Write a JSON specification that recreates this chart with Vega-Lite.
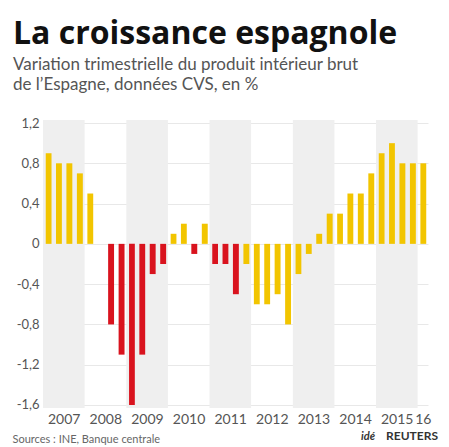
{
  "$schema": "https://vega.github.io/schema/vega-lite/v6.json",
  "autosize": "none",
  "width": 385,
  "height": 288,
  "padding": {"left": 43, "top": 120, "right": 21, "bottom": 39},
  "background": "white",
  "config": {"view": {"stroke": null}, "font": "Lato"},
  "title": {
    "text": "La croissance espagnole",
    "subtitle": ["Variation trimestrielle du produit intérieur brut", "de l’Espagne, données CVS, en %"],
    "anchor": "start",
    "frame": "group",
    "dx": -30,
    "offset": 23,
    "font": "Open Sans",
    "fontSize": 32,
    "fontWeight": "bold",
    "color": "#111111",
    "subtitleFont": "Lato",
    "subtitleFontSize": 17,
    "subtitleColor": "#555555",
    "subtitleLineHeight": 20,
    "subtitlePadding": 6
  },
  "datasets": {
    "bars": [
      {"date": "2007-01-01", "v": 0.9, "g": "A"},
      {"date": "2007-04-01", "v": 0.8, "g": "A"},
      {"date": "2007-07-01", "v": 0.8, "g": "A"},
      {"date": "2007-10-01", "v": 0.7, "g": "A"},
      {"date": "2008-01-01", "v": 0.5, "g": "A"},
      {"date": "2008-04-01", "v": 0.0, "g": "A"},
      {"date": "2008-07-01", "v": -0.8, "g": "B"},
      {"date": "2008-10-01", "v": -1.1, "g": "B"},
      {"date": "2009-01-01", "v": -1.6, "g": "B"},
      {"date": "2009-04-01", "v": -1.1, "g": "B"},
      {"date": "2009-07-01", "v": -0.3, "g": "B"},
      {"date": "2009-10-01", "v": -0.2, "g": "B"},
      {"date": "2010-01-01", "v": 0.1, "g": "A"},
      {"date": "2010-04-01", "v": 0.2, "g": "A"},
      {"date": "2010-07-01", "v": -0.1, "g": "B"},
      {"date": "2010-10-01", "v": 0.2, "g": "A"},
      {"date": "2011-01-01", "v": -0.2, "g": "B"},
      {"date": "2011-04-01", "v": -0.2, "g": "B"},
      {"date": "2011-07-01", "v": -0.5, "g": "B"},
      {"date": "2011-10-01", "v": -0.2, "g": "A"},
      {"date": "2012-01-01", "v": -0.6, "g": "A"},
      {"date": "2012-04-01", "v": -0.6, "g": "A"},
      {"date": "2012-07-01", "v": -0.5, "g": "A"},
      {"date": "2012-10-01", "v": -0.8, "g": "A"},
      {"date": "2013-01-01", "v": -0.3, "g": "A"},
      {"date": "2013-04-01", "v": -0.1, "g": "A"},
      {"date": "2013-07-01", "v": 0.1, "g": "A"},
      {"date": "2013-10-01", "v": 0.3, "g": "A"},
      {"date": "2014-01-01", "v": 0.3, "g": "A"},
      {"date": "2014-04-01", "v": 0.5, "g": "A"},
      {"date": "2014-07-01", "v": 0.5, "g": "A"},
      {"date": "2014-10-01", "v": 0.7, "g": "A"},
      {"date": "2015-01-01", "v": 0.9, "g": "A"},
      {"date": "2015-04-01", "v": 1.0, "g": "A"},
      {"date": "2015-07-01", "v": 0.8, "g": "A"},
      {"date": "2015-10-01", "v": 0.8, "g": "A"},
      {"date": "2016-01-01", "v": 0.8, "g": "A"}
    ],
    "bands": [
      {"start": "2007-01-01", "end": "2008-01-01"},
      {"start": "2009-01-01", "end": "2010-01-01"},
      {"start": "2011-01-01", "end": "2012-01-01"},
      {"start": "2013-01-01", "end": "2014-01-01"},
      {"start": "2015-01-01", "end": "2016-01-01"}
    ]
  },
  "layer": [
    {
      "data": {"name": "bands"},
      "mark": {"type": "rect", "color": "#efefef"},
      "encoding": {
        "x": {
          "field": "start", "type": "temporal",
          "scale": {"type": "utc", "domain": [{"year": 2007, "month": 1, "date": 1, "utc": true}, {"year": 2016, "month": 4, "date": 1, "utc": true}]},
          "axis": {
            "values": [
              {"year": 2007, "month": 7, "date": 1, "utc": true},
              {"year": 2008, "month": 7, "date": 1, "utc": true},
              {"year": 2009, "month": 7, "date": 1, "utc": true},
              {"year": 2010, "month": 7, "date": 1, "utc": true},
              {"year": 2011, "month": 7, "date": 1, "utc": true},
              {"year": 2012, "month": 7, "date": 1, "utc": true},
              {"year": 2013, "month": 7, "date": 1, "utc": true},
              {"year": 2014, "month": 7, "date": 1, "utc": true},
              {"year": 2015, "month": 7, "date": 1, "utc": true},
              {"year": 2016, "month": 2, "date": 15, "utc": true}
            ],
            "labelExpr": "utcyear(datum.value) == 2016 ? '16' : '' + utcyear(datum.value)",
            "labelFont": "Lato",
            "labelFontSize": 14,
            "labelColor": "#555555",
            "labelPadding": 4,
            "ticks": false,
            "domain": false,
            "grid": false,
            "labelFlush": false,
            "labelOverlap": false,
            "title": "Sources : INE, Banque centrale",
            "titleFont": "Lato",
            "titleFontSize": 11,
            "titleFontWeight": "normal",
            "titleColor": "#666666",
            "titleAnchor": "start",
            "titleAlign": "left",
            "titleBaseline": "alphabetic",
            "titleX": -31,
            "titleY": 34
          }
        },
        "x2": {"field": "end"},
        "y": {"datum": 1.23, "type": "quantitative"},
        "y2": {"datum": -1.63}
      }
    },
    {
      "data": {"name": "bars"},
      "mark": {"type": "bar", "width": {"band": 0.66}},
      "encoding": {
        "x": {"field": "date", "type": "temporal", "timeUnit": "utcyearquarter", "scale": {"type": "utc"}},
        "y": {
          "field": "v", "type": "quantitative",
          "scale": {"domain": [-1.63, 1.23], "nice": false, "zero": false},
          "axis": {
            "values": [-1.6, -1.2, -0.8, -0.4, 0, 0.4, 0.8, 1.2],
            "labelExpr": "replace('' + datum.value, '.', ',')",
            "labelFont": "Lato",
            "labelFontSize": 13,
            "labelColor": "#555555",
            "labelPadding": 4,
            "ticks": false,
            "domain": false,
            "grid": true,
            "gridColor": "#e8e8e8",
            "title": null
          }
        },
        "color": {"field": "g", "type": "nominal", "scale": {"domain": ["A", "B"], "range": ["#f2c500", "#d9131e"]}, "legend": null}
      }
    },
    {
      "data": {"values": [{"t": "REUTERS"}]},
      "mark": {"type": "text", "align": "right", "baseline": "alphabetic", "font": "Lato", "fontSize": 12, "fontWeight": "bold", "color": "#333333", "dx": 10, "dy": 32},
      "encoding": {
        "text": {"field": "t"},
        "x": {"datum": {"year": 2016, "month": 4, "date": 1, "utc": true}, "type": "temporal"},
        "y": {"datum": -1.63, "type": "quantitative"}
      }
    },
    {
      "data": {"values": [{"t": "idé"}]},
      "mark": {"type": "text", "align": "right", "baseline": "alphabetic", "font": "Lato", "fontSize": 11, "fontStyle": "italic", "fontWeight": "bold", "color": "#333333", "dx": -53, "dy": 32},
      "encoding": {
        "text": {"field": "t"},
        "x": {"datum": {"year": 2016, "month": 4, "date": 1, "utc": true}, "type": "temporal"},
        "y": {"datum": -1.63, "type": "quantitative"}
      }
    }
  ]
}
